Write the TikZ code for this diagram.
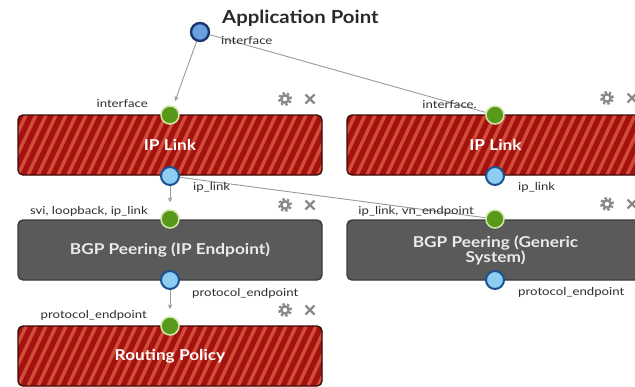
\documentclass[tikz,border=0pt]{standalone}
\usepackage{fontspec}
\setmainfont{Lato}
\newfontfamily\boxfont[FakeStretch=1.15]{Lato}
\newfontfamily\lblfont[FakeStretch=1.2]{Lato}
\newfontfamily\titlefont[FakeStretch=1.13]{Lato}
\usetikzlibrary{arrows.meta}
\pgfdeclarelayer{bg}
\pgfsetlayers{bg,main}
\definecolor{redbase}{HTML}{A3120E}
\definecolor{redstripe}{HTML}{D24C3A}
\definecolor{reddark}{HTML}{3A0A08}
\definecolor{greyfill}{HTML}{5A5A5A}
\definecolor{greydark}{HTML}{3A3A3A}
\definecolor{greenfill}{HTML}{58981A}
\definecolor{greenring}{HTML}{D2E6A8}
\definecolor{bluefill}{HTML}{8DCDF2}
\definecolor{bluering}{HTML}{1E4F8E}
\definecolor{appfill}{HTML}{6C9FE0}
\definecolor{appring}{HTML}{1B3570}
\definecolor{conncol}{HTML}{9A9A9A}
\definecolor{labelcol}{HTML}{2E2E2E}
\definecolor{iconcol}{HTML}{8A8A8A}
\definecolor{titlecol}{HTML}{2A2A2A}
\tikzset{
  boxbase/.style={rounded corners=5pt, minimum height=60pt, text=white,
    font=\boxfont\bfseries\fontsize{15}{15}\selectfont, align=center, inner sep=0pt},
  redbox/.style={boxbase, draw=reddark, line width=1.4pt, fill=redbase,
    path picture={\foreach \s in {-40,-30,...,320}{
      \draw[redstripe, line width=3.4pt]
        ([xshift=\s pt]path picture bounding box.south west) -- ++(30pt,64pt);}}},
  greybox/.style={boxbase, draw=greydark, line width=1.4pt, fill=greyfill, text=white!92!black},
  port/.style={circle, minimum size=18pt, inner sep=0pt},
  greenport/.style={port, fill=greenfill, draw=greenring, line width=1.5pt},
  blueport/.style={port, fill=bluefill, draw=bluering, line width=2pt},
  apppoint/.style={port, fill=appfill, draw=appring, line width=2.4pt},
  conn/.style={draw=conncol, line width=0.9pt},
  arr/.style={-{Stealth[length=5pt,width=4.5pt]}, shorten >=5pt},
  lbl/.style={text=labelcol, font=\lblfont\fontsize{11}{12}\selectfont, inner sep=0pt},
  gearicon/.pic={
    \fill[iconcol] (0,0) circle[radius=4.9pt];
    \draw[iconcol, line width=2.4pt, dash pattern=on 2.4pt off 2.1pt] (0,0) circle[radius=5.7pt];
    \fill[white] (0,0) circle[radius=2.2pt];},
  xicon/.pic={
    \draw[iconcol, line width=2.2pt] (-4.5pt,-4.5pt) -- (4.5pt,4.5pt) (-4.5pt,4.5pt) -- (4.5pt,-4.5pt);}
}
\begin{document}
\begin{tikzpicture}[x=1pt,y=-1pt]
\useasboundingbox (0,0) rectangle (635,386);
\clip (0,0) rectangle (635,386);

% boxes
\node[redbox, minimum width=304pt] (ipl1) at (170,145) {IP Link};
\node[redbox, minimum width=297pt] (ipl2) at (495.5,145) {IP Link};
\node[greybox, minimum width=304pt] (bgp1) at (170,250) {BGP Peering (IP Endpoint)};
\node[greybox, minimum width=297pt] (bgp2) at (495.5,250) {BGP Peering (Generic\\System)};
\node[redbox, minimum width=304pt] (rp1) at (170,356) {Routing Policy};

% icons
\pic at (285,99) {gearicon}; \pic at (310,99) {xicon};
\pic at (607,98) {gearicon}; \pic at (632,98) {xicon};
\pic at (285,205) {gearicon}; \pic at (310,205) {xicon};
\pic at (607,204) {gearicon}; \pic at (632,204) {xicon};
\pic at (285,310) {gearicon}; \pic at (310,310) {xicon};

% ports
\node[apppoint] (app) at (200,32) {};
\node[greenport] (ipl1in) at (170,115) {};
\node[blueport] (ipl1out) at (170,176) {};
\node[greenport] (ipl2in) at (495,115) {};
\node[blueport] (ipl2out) at (495,176) {};
\node[greenport] (bgp1in) at (170,219) {};
\node[blueport] (bgp1out) at (170,280) {};
\node[greenport] (bgp2in) at (495,219) {};
\node[blueport] (bgp2out) at (495,280) {};
\node[greenport] (rp1in) at (170,326) {};

% texts
\node[anchor=west, text=titlecol, font=\titlefont\bfseries\fontsize{18}{20}\selectfont, inner sep=0pt] (title) at (222,18) {Application Point};
\node[lbl, anchor=west] (l1) at (221,41) {interface};
\node[lbl, anchor=east] (l2) at (148,104) {interface};
\node[lbl, anchor=east] (l3) at (477,105) {interface.};
\node[lbl, anchor=west] (l4) at (193,187) {ip\_link};
\node[lbl, anchor=west] (l5) at (518,187) {ip\_link};
\node[lbl, anchor=east] (l6) at (148,211) {svi, loopback, ip\_link};
\node[lbl, anchor=east] (l7) at (474,211) {ip\_link, vn\_endpoint};
\node[lbl, anchor=west] (l8) at (192,293) {protocol\_endpoint};
\node[lbl, anchor=west] (l9) at (518,292) {protocol\_endpoint};
\node[lbl, anchor=east] (l10) at (147,315) {protocol\_endpoint};

% connectors
\begin{pgfonlayer}{bg}
\draw[conn, arr] (app) -- (ipl1in);
\draw[conn] (app) -- (ipl2in);
\draw[conn, arr, shorten >=7pt] (ipl1out) -- (bgp1in);
\draw[conn] (ipl1out) -- (bgp2in);
\draw[conn, arr, shorten >=7pt] (bgp1out) -- (rp1in);
\end{pgfonlayer}
\end{tikzpicture}
\end{document}
